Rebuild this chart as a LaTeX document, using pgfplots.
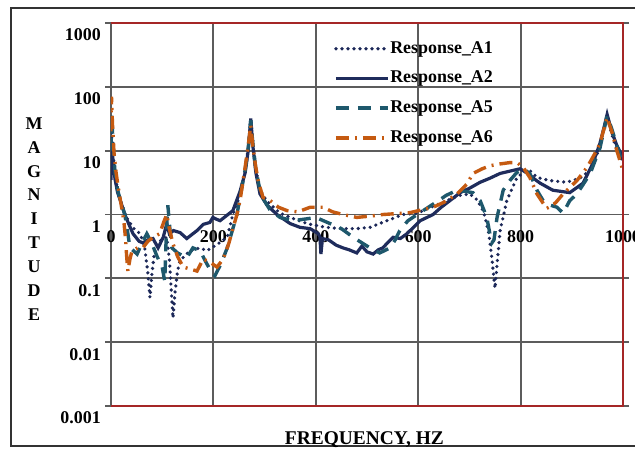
\documentclass[border=0pt]{standalone}
\usepackage{fontspec}
\setmainfont{Liberation Serif}
\usepackage{pgfplots}
\usepackage{pgfplotstable}
\pgfplotsset{compat=1.18}

\definecolor{navyA}{RGB}{31,44,92}
\definecolor{dotA}{RGB}{28,40,88}
\definecolor{tealA}{RGB}{30,88,108}
\definecolor{orangeA}{RGB}{197,90,17}
\definecolor{frameA}{RGB}{165,38,38}
\definecolor{gridA}{RGB}{92,92,92}

% frequency (Hz)  magnitude
\pgfplotstableread{
f m
0 8
1.5 22
4 9
8 4
13 2.4
20 1.5
30 0.9
45 0.6
57 0.5
66 0.3
72 0.12
76 0.05
80 0.12
86 0.3
98 0.4
109 0.44
114 0.2
118 0.06
121 0.024
125 0.06
130 0.13
135 0.19
154 0.27
174 0.3
187 0.27
205 0.33
227 0.44
238 1.0
252 2.0
262 5
268 11
273 30
277 13
283 5
291 2.4
305 1.6
330 1.05
350 0.9
383 0.72
410 0.65
428 0.62
453 0.6
480 0.6
506 0.63
539 0.8
570 1.0
598 1.05
630 1.35
660 1.7
682 2.0
701 2.1
715 1.7
728 1.1
738 0.5
744 0.2
750 0.07
755 0.2
760 0.56
773 1.65
793 3.8
805 4.5
818 4.9
832 3.8
857 3.4
890 3.2
916 3.7
935 4.9
950 9
960 18
969 35
975 22
985 12
1000 6.5
}\dataAone

\pgfplotstableread{
f m
0 3.5
1.5 13
4 7
8 3.5
13 2.2
20 1.5
27 1.0
35 0.7
43 0.5
55 0.38
62 0.36
72 0.4
82 0.42
92 0.3
102 0.44
109 0.72
114 0.5
122 0.56
135 0.52
148 0.42
160 0.5
168 0.56
180 0.7
193 0.75
199 0.9
205 0.85
213 0.8
225 0.95
238 1.15
252 2.3
262 4.5
268 10
273 32
277 12
283 4.5
291 2.1
305 1.4
324 1.0
350 0.72
369 0.63
389 0.6
405 0.5
408 0.45
410 0.24
413 0.42
425 0.4
440 0.33
453 0.3
465 0.28
480 0.25
490 0.32
500 0.26
512 0.24
522 0.28
531 0.3
540 0.36
551 0.44
565 0.42
578 0.5
590 0.62
604 0.8
629 1.0
645 1.3
662 1.65
682 2.2
701 2.6
721 3.2
740 3.7
760 4.4
780 4.8
799 5.2
812 4.5
825 3.7
838 3.1
863 2.4
896 2.2
922 3.1
941 6.3
955 13
961 20
969 37
978 20
988 12
1000 7.8
}\dataAtwo

\pgfplotstableread{
f m
0 10
1.5 38
4 12
8 4.5
13 2.4
20 1.5
27 1.0
33 0.5
37 0.3
44 0.27
51 0.24
60 0.35
70 0.5
80 0.35
90 0.22
100 0.15
105 0.09
108 0.5
111 1.4
115 0.6
119 0.3
130 0.25
148 0.21
160 0.3
174 0.27
187 0.17
195 0.13
203 0.11
215 0.17
227 0.3
238 0.6
246 1.0
255 2.5
262 5
268 11
273 30
277 13
283 5
293 2.0
310 1.2
330 0.9
355 0.8
380 0.85
400 0.9
428 0.72
450 0.6
473 0.44
490 0.36
506 0.3
525 0.25
545 0.3
555 0.4
564 0.56
580 0.8
598 1.0
620 1.3
637 1.6
655 2.0
676 2.4
692 2.3
707 2.2
721 1.65
734 0.9
740 0.5
744 0.36
748 0.4
754 0.9
766 2.4
779 3.4
792 4.5
805 5.2
818 4.4
832 2.4
844 1.65
858 1.4
871 1.3
883 1.05
896 1.65
910 2.1
925 3.2
936 4.4
955 11
969 35
978 22
988 12
1000 6
}\dataAfive

\pgfplotstableread{
f m
0 20
1 70
3 25
6 9
10 4.5
15 2.4
20 1.4
25 0.8
28 0.45
31 0.2
33 0.13
37 0.2
41 0.27
52 0.3
62 0.3
72 0.38
82 0.44
95 0.5
104 0.8
109 1.0
114 0.6
121 0.35
130 0.22
141 0.15
155 0.14
168 0.13
180 0.2
193 0.18
207 0.15
219 0.2
230 0.35
238 0.6
246 1.0
252 1.65
262 5.5
268 12
273 25
277 12
282 6
288 3.2
297 1.85
311 1.65
327 1.3
344 1.15
365 1.1
389 1.3
414 1.3
433 1.1
453 1.0
480 0.9
510 0.95
531 1.0
556 1.03
584 1.07
629 1.3
650 1.55
676 2.1
695 3.0
707 4.4
725 5.2
740 5.8
760 6.2
779 6.5
793 6.5
805 5.5
818 3.8
832 2.1
844 1.5
851 1.25
860 1.35
869 1.55
883 2.1
897 2.7
910 3.4
930 5.5
945 9
955 13
969 33
978 20
988 10
1000 4.9
}\dataAsix

\begin{document}
\begin{tikzpicture}
\useasboundingbox (-111bp,-43bp) rectangle (524bp,406bp);
% outer frame
\draw[line width=1.5bp, black!80] (540bp,398bp) -- (-100bp,398bp) -- (-100bp,-40bp) -- (540bp,-40bp);
\begin{axis}[
  name=ax,
  at={(0,0)}, anchor=south west,
  scale only axis, width=512bp, height=383bp,
  xmin=0, xmax=1000, ymode=log, ymin=0.001, ymax=1000,
  xtick={0,200,400,600,800,1000},
  xticklabels={0,200,400,600,800,1000},
  ytick={0.001,0.01,0.1,1,10,100,1000},
  yticklabels={0.001,0.01,0.1,1,10,100,1000},
  yminorticks=false,
  grid=major,
  major grid style={gridA, line width=1.9bp},
  axis line style={draw=none},
  xtick style={draw=none},
  ytick style={gridA, line width=1.9bp},
  tick align=outside, major tick length=6bp,
  yticklabel style={font=\bfseries\fontsize{18}{20}\selectfont, anchor=east, inner sep=0pt, xshift=-4bp, yshift=-12bp},
  xticklabel style={font=\bfseries\fontsize{18}{20}\selectfont, anchor=center, inner sep=0pt, yshift=175bp},
  every axis x label/.style={at={(0.495,-0.1018)}, anchor=base, font=\bfseries\fontsize{19.5}{22}\selectfont},
  every axis y label/.style={at={(-0.1504,0.4883)}, anchor=center, align=center, font=\bfseries\fontsize{18}{24}\selectfont},
  xlabel={FREQUENCY, HZ},
  ylabel={M\\A\\G\\N\\I\\T\\U\\D\\E},
  legend style={at={(0.4355,0.972)}, anchor=north west, draw=none, fill=none,
    inner sep=0pt, row sep=0pt, column sep=0pt,
    font=\bfseries\fontsize{18}{20}\selectfont,
    nodes={inner xsep=0.5bp, inner ysep=6.35bp, text height=13bp, text depth=4bp}},
  legend cell align=left,
  legend image code/.code={\draw[#1] (0bp,0bp) -- (52bp,0bp);},
]
\addplot[dotA, line width=3.6bp, line cap=round, dash pattern=on 0bp off 6bp] table[x=f,y=m] {\dataAone};
\addlegendentry{Response\_A1}
\addplot[navyA, line width=3.2bp] table[x=f,y=m] {\dataAtwo};
\addlegendentry{Response\_A2}
\addplot[tealA, line width=3.4bp, dash pattern=on 13bp off 9bp] table[x=f,y=m] {\dataAfive};
\addlegendentry{Response\_A5}
\addplot[orangeA, line width=3.4bp, dash pattern=on 13bp off 6bp on 2bp off 6bp] table[x=f,y=m] {\dataAsix};
\addlegendentry{Response\_A6}
\end{axis}
% plot frame
\draw[frameA, line width=2bp] (ax.north west) -- (ax.north east) -- (ax.south east) -- (ax.south west);
\end{tikzpicture}
\end{document}
